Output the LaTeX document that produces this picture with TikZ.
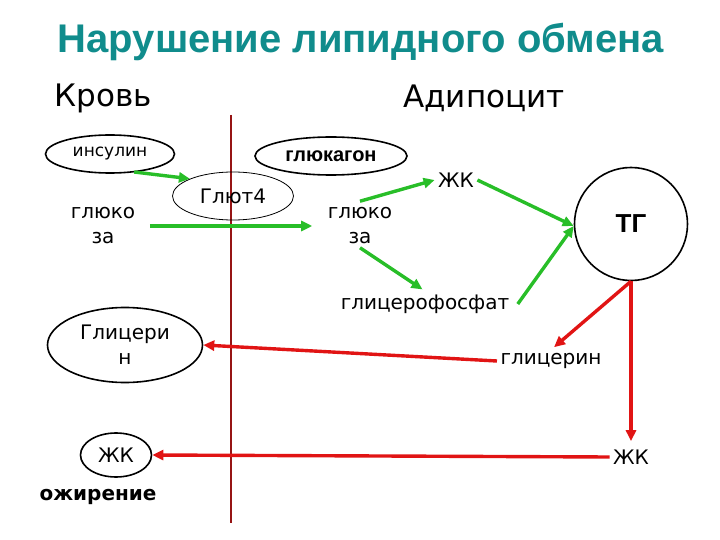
\documentclass[tikz,border=0pt]{standalone}
\usepackage{fontspec}
\setmainfont{DejaVu Sans}
\newfontfamily\titlefont{Liberation Sans}
\usetikzlibrary{arrows.meta, shapes.geometric, positioning}
\tikzset{every node/.append style={align=center}}
\definecolor{titlecol}{RGB}{16,140,140}
\definecolor{syncol}{RGB}{40,190,40}
\definecolor{lipcol}{RGB}{225,20,20}
\definecolor{bordercol}{RGB}{150,20,20}
\tikzset{
  oval/.style={draw, ellipse, line width=1.6pt, inner sep=0pt},
  txt/.style={font=\fontsize{20}{25}\selectfont},
  synth/.style={syncol, line width=3.4pt, -{Triangle[length=11pt,width=10pt]}},
  lysis/.style={lipcol, line width=3.4pt, -{Triangle[length=11pt,width=10pt]}}
}

\begin{document}
\begin{tikzpicture}[x=1pt,y=-1pt]
\useasboundingbox (0,0) rectangle (720,540);

% ── Title and sides ──────────────────────────────────────────────────────────
\node[font=\titlefont\bfseries\fontsize{40}{44}\selectfont, titlecol] (title) at (361,42)
      {Нарушение липидного обмена};
\node[font=\fontsize{31}{34}\selectfont] (blood) at (103,98) {Кровь};
\node[font=\fontsize{31}{34}\selectfont] (adipo) at (484,98) {Адипоцит};

% Membrane line
\draw[bordercol, line width=1.6pt] (231,115) -- (231,523);

% ── Blood side ───────────────────────────────────────────────────────────────
\node[oval, font=\fontsize{17}{20}\selectfont, minimum width=129pt, minimum height=38pt]
      (insulin) at (110,154) {инсулин};
\node[oval, line width=0.8pt, txt, minimum width=121pt, minimum height=48pt] (glut) at (233,196) {Глют4};
\node[txt] (glucB) at (103,226) {глюко\\за};
\node[oval, txt, minimum width=155pt, minimum height=75pt] (glycB) at (125,345) {Глицери\\н};
\node[oval, txt, minimum width=71pt, minimum height=44pt] (faB) at (116,455) {ЖК};
\node[font=\bfseries\fontsize{20}{22}\selectfont] (obes) at (98,497) {ожирение};

% ── Adipocyte side ───────────────────────────────────────────────────────────
\node[oval, minimum width=152pt, minimum height=38pt,
      font=\titlefont\bfseries\fontsize{20}{22}\selectfont] (glucagon) at (331,156) {глюкагон};
\node[txt] (glucA) at (360,226) {глюко\\за};
\node[txt] (faA) at (456,180) {ЖК};
\node[draw, circle, line width=1.6pt, minimum size=113pt,
      font=\titlefont\bfseries\fontsize{26}{30}\selectfont] (tg) at (631,224) {ТГ};
\node[txt] (gp) at (425,304) {глицерофосфат};
\node[txt] (glycA) at (551,361) {глицерин};
\node[txt] (faC) at (631,457) {ЖК};

% ── Synthesis (green) ────────────────────────────────────────────────────────
\draw[synth] ([xshift=-22pt,yshift=-4pt]insulin.south east) -- (glut.north west);
\draw[synth, shorten >=12pt] ([xshift=11pt]glucB.east) -- (glucA.west);
\draw[synth] ([yshift=3pt]glucA.north) -- (faA.west);
\draw[synth] (faA.east) -- ([yshift=-2pt]tg.west);
\draw[synth, shorten >=3pt] (glucA.south) -- (gp.north);
\draw[synth] ([xshift=5pt]gp.east) -- ([yshift=-2pt]tg.west);

% ── Lipolysis (red) ──────────────────────────────────────────────────────────
\draw[lysis, shorten >=4pt] (tg.south) -- (glycA.north);
\draw[lysis, shorten >=5pt] (tg.south) -- (faC.north);
\draw[lysis] (glycA.west) -- (glycB.east);
\draw[lysis] (faC.west) -- (faB.east);

\end{tikzpicture}
\end{document}
